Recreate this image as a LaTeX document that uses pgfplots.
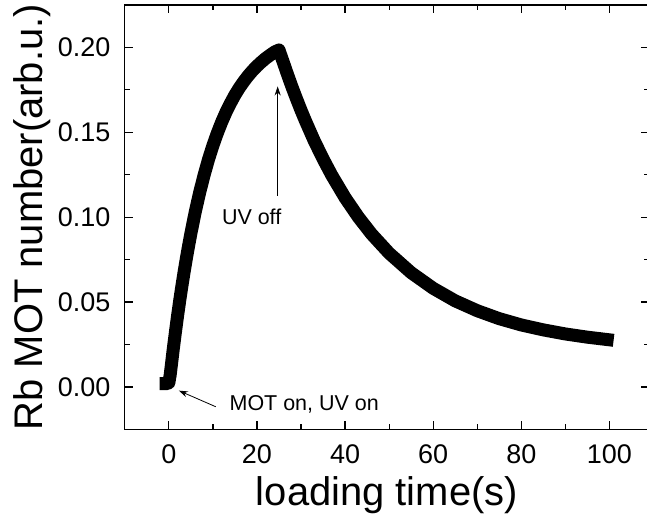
\documentclass[border=0pt]{standalone}
\usepackage{fontspec}
\setmainfont{Liberation Sans}
\usepackage{pgfplots}
\pgfplotsset{compat=1.18}
\usetikzlibrary{arrows.meta}

\begin{document}
\begin{tikzpicture}
\begin{axis}[
    scale only axis,
    width=525pt,
    height=425pt,
    xmin=-10, xmax=109,
    ymin=-0.025, ymax=0.225,
    xtick={0,20,40,60,80,100},
    ytick={0,0.05,0.1,0.15,0.2},
    minor x tick num=1,
    minor y tick num=1,
    tick align=inside,
    major tick length=8pt,
    minor tick length=5pt,
    axis line style={line width=1.2pt},
    every tick/.append style={black, line width=1.2pt},
    /pgf/number format/assume math mode=true,
    yticklabel style={/pgf/number format/fixed,
        /pgf/number format/fixed zerofill,
        /pgf/number format/precision=2, xshift=-11pt},
    xticklabel style={yshift=-12pt},
    ticklabel style={font=\fontsize{27}{31}\selectfont},
    label style={font=\fontsize{40}{45}\selectfont},
    xlabel style={yshift=-6pt},
    xlabel={loading time(s)},
    ylabel={Rb MOT number(arb.u.)},
    clip=false,
]
% loading with UV on, then decay after UV off
\addplot[black, line width=13pt, line join=round, line cap=rect] coordinates {
    (-0.6,0.0020) (-0.3,0.0020) (0,0.0025)
    (0.3,0.0070) (0.6,0.0135) (1,0.0223) (1.5,0.0325) (2,0.0423)
    (2.5,0.0515) (3,0.0601) (3.5,0.0683) (4,0.0761) (4.5,0.0834)
    (5,0.0904) (6,0.1032) (7,0.1146) (8,0.1248) (9,0.1340)
    (10,0.1422) (11,0.1495) (12,0.1561) (13,0.1620) (14,0.1672)
    (15,0.1720) (16,0.1762) (17,0.1799) (18,0.1833) (19,0.1863)
    (20,0.1890) (21,0.1914) (22,0.1936) (23,0.1955) (24,0.1973)
    (25,0.1985)
    (26,0.1911) (27,0.1836) (28,0.1764) (29,0.1696) (30,0.1630)
    (31,0.1568) (33,0.1450) (35,0.1344) (37,0.1246) (40,0.1115)
    (43,0.1001) (46,0.0901) (50,0.0788) (55,0.0673) (60,0.0581)
    (65,0.0507) (70,0.0449) (75,0.0402) (80,0.0365) (85,0.0336)
    (90,0.0312) (95,0.0293) (99.5,0.0279)
};
\draw[-{Stealth[length=9pt,width=6pt]}, line width=0.8pt]
    (axis cs:24.7,0.1125) -- (axis cs:24.7,0.177);
\node[font=\fontsize{21.5}{24}\selectfont] at (axis cs:18.8,0.100) {UV off};
\draw[-{Stealth[length=9pt,width=6pt]}, line width=0.8pt]
    (axis cs:10.66,-0.0117) -- (axis cs:2.27,-0.0022);
\node[anchor=west, font=\fontsize{21.5}{24}\selectfont]
    at (axis cs:13.0,-0.0105) {MOT on, UV on};
\end{axis}
\pgfresetboundingbox
\path ([xshift=-125pt,yshift=-85pt]current axis.south west)
    rectangle ([xshift=-2pt,yshift=5pt]current axis.north east);
\end{tikzpicture}
\end{document}
